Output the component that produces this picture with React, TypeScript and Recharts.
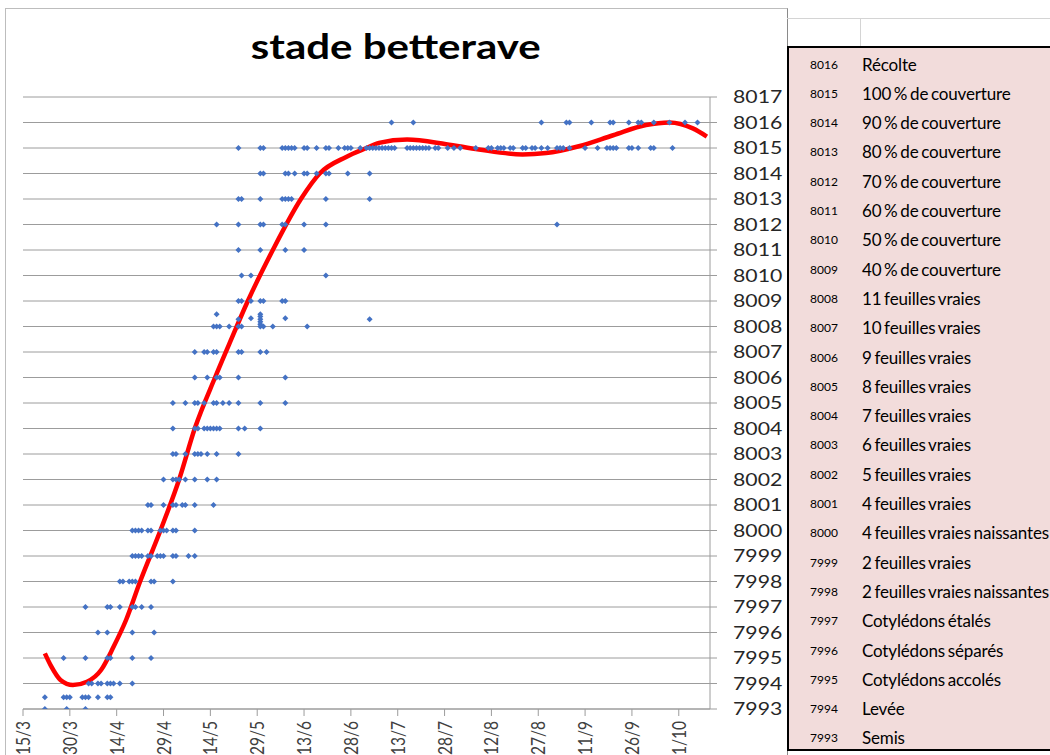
import React from "react";
import {
  ComposedChart,
  Scatter,
  Line,
  XAxis,
  YAxis,
  CartesianGrid,
} from "recharts";

// ---- stage table (code + description) ----
const stageCodes = [
  8016, 8015, 8014, 8013, 8012, 8011, 8010, 8009, 8008, 8007, 8006, 8005,
  8004, 8003, 8002, 8001, 8000, 7999, 7998, 7997, 7996, 7995, 7994, 7993,
];
const stageNames = [
  "Récolte",
  "100 % de couverture",
  "90 % de couverture",
  "80 % de couverture",
  "70 % de couverture",
  "60 % de couverture",
  "50 % de couverture",
  "40 % de couverture",
  "11 feuilles vraies",
  "10 feuilles vraies",
  "9 feuilles vraies",
  "8 feuilles vraies",
  "7 feuilles vraies",
  "6 feuilles vraies",
  "5 feuilles vraies",
  "4 feuilles vraies",
  "4 feuilles vraies naissantes",
  "2 feuilles vraies",
  "2 feuilles vraies naissantes",
  "Cotylédons étalés",
  "Cotylédons séparés",
  "Cotylédons accolés",
  "Levée",
  "Semis",
];

// ---- axes ----
const xTickDays = [0, 15, 30, 45, 60, 75, 90, 105, 120, 135, 150, 165, 180, 195, 210];
const xTickLabels = [
  "15/3", "30/3", "14/4", "29/4", "14/5", "29/5", "13/6", "28/6",
  "13/7", "28/7", "12/8", "27/8", "11/9", "26/9", "11/10",
];
const yTicks = [
  7993, 7994, 7995, 7996, 7997, 7998, 7999, 8000, 8001, 8002, 8003, 8004,
  8005, 8006, 8007, 8008, 8009, 8010, 8011, 8012, 8013, 8014, 8015, 8016, 8017,
];

// ---- observations: days after 15 March, per stage code ----
const obs7993 = [7, 14, 20];
const obs7994 = [21, 22, 24, 25, 27, 28, 29, 31, 35];
const obs7995 = [13, 20, 27, 28, 35, 41];
const obs7996 = [24, 27, 35, 42];
const obs7997 = [20, 27, 28, 31, 35, 36, 38, 41];
const obs7998 = [31, 32, 34, 35, 36, 41, 42, 48];
const obs7999 = [35, 36, 37, 38, 40, 41, 43, 44, 45, 48, 49, 53, 55];
const obs8000 = [35, 36, 37, 38, 40, 41, 44, 45, 46, 48, 49, 55];
const obs8001 = [40, 41, 45, 48, 49, 51, 52, 55, 61];
const obs8002 = [45, 48, 49, 50, 52, 55, 59, 62];
const obs8003 = [48, 49, 52, 55, 56, 57, 59, 62, 69];
const obs8004 = [48, 55, 56, 58, 59, 60, 61, 62, 63, 69, 71, 76];
const obs8005 = [48, 52, 55, 56, 58, 61, 62, 64, 66, 69, 76, 84];
const obs8006 = [55, 59, 62, 63, 69, 84];
const obs8007 = [55, 58, 59, 61, 62, 69, 70, 76, 78];
const obs8008 = [61, 62, 63, 66, 69, 70, 76, 77, 80, 91];
const obs8009 = [69, 70, 73, 76, 77, 83, 84];
const obs8010 = [70, 73, 97];
const obs8011 = [69, 76, 84, 90];
const obs8012 = [62, 69, 76, 77, 83, 84, 90, 97, 171];
const obs8013 = [69, 70, 76, 83, 84, 85, 86, 97, 111];
const obs8014 = [76, 77, 84, 85, 87, 90, 91, 94, 97, 98, 104, 111];
const obs8015 = [
  69, 76, 77, 83, 84, 85, 86, 87, 90, 91, 94, 97, 98, 101, 103, 104, 105, 108,
  110, 111, 112, 113, 114, 115, 116, 117, 118, 119, 123, 124, 125, 126, 127,
  128, 129, 130, 132, 133, 136, 138, 140, 145, 149, 150, 152, 153, 154, 156,
  157, 160, 161, 163, 164, 166, 168, 171, 172, 173, 175, 180, 184, 187, 188,
  189, 190, 194, 195, 197, 201, 202, 208,
];
const obs8016 = [118, 125, 166, 174, 175, 182, 188, 189, 194, 197, 198, 202, 207, 212, 216];

// observations plotted between two stage lines
const offGridDays = [7, 13, 14, 15, 19, 20, 21, 24, 27, 28, 62, 69, 73, 76, 76, 76, 76, 76, 84, 111];
const offGridValues = [
  7993.46, 7993.46, 7993.46, 7993.46, 7993.46, 7993.46, 7993.46, 7993.46,
  7993.46, 7993.46, 8008.48, 8008.28, 8008.32, 8008.48, 8008.39, 8008.28,
  8008.19, 8008.09, 8008.32, 8008.28,
];

// ---- polynomial trend line ----
const trendDays = [
  7, 9, 12, 16, 20.5, 25, 29, 33, 37.5, 44, 50, 55, 61.5, 66, 72, 80, 89, 95,
  103.5, 110, 114, 123, 135.5, 146, 160, 167.5, 178, 189, 199.5, 207, 214.5, 219,
];
const trendValues = [
  7995.18, 7994.68, 7994.14, 7993.94, 7994.07, 7994.53, 7995.44, 7996.49,
  7998, 8000, 8002, 8004, 8006, 8007.3, 8009, 8011, 8013, 8014, 8014.65,
  8015.0, 8015.2, 8015.33, 8015.15, 8014.94, 8014.75, 8014.8, 8015.07,
  8015.5, 8015.9, 8016.0, 8015.77, 8015.45,
];

const obsRows: [number, number[]][] = [
  [7993, obs7993], [7994, obs7994], [7995, obs7995], [7996, obs7996],
  [7997, obs7997], [7998, obs7998], [7999, obs7999], [8000, obs8000],
  [8001, obs8001], [8002, obs8002], [8003, obs8003], [8004, obs8004],
  [8005, obs8005], [8006, obs8006], [8007, obs8007], [8008, obs8008],
  [8009, obs8009], [8010, obs8010], [8011, obs8011], [8012, obs8012],
  [8013, obs8013], [8014, obs8014], [8015, obs8015], [8016, obs8016],
];

const obsPoints = [
  ...obsRows.flatMap(([code, days]) => days.map((d) => ({ x: d, y: code }))),
  ...offGridDays.map((d, i) => ({ x: d, y: offGridValues[i] })),
];
const trendPoints = trendDays.map((d, i) => ({ x: d, y: trendValues[i] }));

const FONT = "Lato, 'Open Sans', sans-serif";
const GRID = "#9c9c9c";

const Diamond = (props: any) => {
  const { cx, cy } = props;
  if (cx == null || cy == null) return null;
  const r = 3;
  return (
    <path
      d={`M${cx} ${cy - r}L${cx + r} ${cy}L${cx} ${cy + r}L${cx - r} ${cy}Z`}
      fill="#4472C4"
    />
  );
};

const XTick = (props: any) => {
  const { x, y, payload } = props;
  const i = xTickDays.indexOf(payload.value);
  return (
    <text
      x={0}
      y={0}
      transform={`translate(${x} ${y}) scale(1.25 1) rotate(-90)`}
      textAnchor="end"
      dy="0.36em"
      fontSize={15.5}
      fontFamily={FONT}
      fill="#404040"
    >
      {xTickLabels[i]}
    </text>
  );
};

const YTick = (props: any) => {
  const { x, y, payload } = props;
  return (
    <text
      x={0}
      y={0}
      transform={`translate(${x} ${y}) scale(1.25 1)`}
      textAnchor="start"
      dy="0.36em"
      fontSize={17}
      fontFamily={FONT}
      fill="#262626"
    >
      {payload.value}
    </text>
  );
};

export default function App() {
  const rowStep = 29.3;
  const tableTop = 46;
  return (
    <div style={{ position: "absolute", left: 0, top: 0, width: 1050, height: 755, overflow: "hidden", background: "#fff" }}>
      <style>{`body{margin:0;overflow:hidden}`}</style>
      {/* chart frame */}
      <div
        style={{
          position: "absolute",
          left: 5,
          top: 8,
          width: 781,
          height: 747,
          borderLeft: "1px solid #bdbdbd",
          borderTop: "1px solid #bdbdbd",
          borderRight: "1px solid #8a8a8a",
        }}
      />
      <div style={{ position: "absolute", left: 0, top: 0 }}>
        <ComposedChart
          width={790}
          height={755}
          margin={{ top: 97, right: 0, bottom: 0, left: 23 }}
        >
          <CartesianGrid vertical={false} stroke={GRID} strokeWidth={1} />
          <XAxis
            type="number"
            dataKey="x"
            domain={[0, 220]}
            ticks={xTickDays}
            interval={0}
            height={46}
            stroke={GRID}
            tickSize={7}
            tickMargin={5}
            tick={<XTick />}
            allowDataOverflow
          />
          <YAxis
            type="number"
            dataKey="y"
            orientation="right"
            domain={[7993, 8017]}
            ticks={yTicks}
            interval={0}
            width={80}
            stroke={GRID}
            tickSize={7}
            tickMargin={16}
            tick={<YTick />}
            allowDataOverflow
          />
          <Scatter
            data={obsPoints}
            dataKey="y"
            shape={<Diamond />}
            isAnimationActive={false}
          />
          <Line
            data={trendPoints}
            dataKey="y"
            type="monotone"
            stroke="#FF0000"
            strokeWidth={4.5}
            dot={false}
            activeDot={false}
            isAnimationActive={false}
          />
        </ComposedChart>
      </div>
      {/* title */}
      <div
        style={{
          position: "absolute",
          left: 5,
          top: 27,
          width: 782,
          textAlign: "center",
          fontFamily: FONT,
          fontWeight: 700,
          fontSize: 35,
          lineHeight: "36px",
          color: "#000",
        }}
      >
        <span style={{ display: "inline-block", transform: "scaleX(1.2)" }}>stade betterave</span>
      </div>
      {/* spreadsheet cell lines above the table */}
      <div style={{ position: "absolute", left: 787, top: 18, width: 263, height: 1, background: "#d4d4d4" }} />
      <div style={{ position: "absolute", left: 860, top: 18, width: 1, height: 29, background: "#d4d4d4" }} />
      {/* stage table */}
      <div
        style={{
          position: "absolute",
          left: 787,
          top: tableTop,
          width: 263,
          height: 701,
          background: "#F2DCDB",
          borderLeft: "2px solid #000",
          borderTop: "2px solid #000",
          borderBottom: "2px solid #000",
          overflow: "hidden",
          fontFamily: FONT,
          color: "#000",
        }}
      >
        {stageCodes.map((code, i) => (
          <div
            key={code}
            style={{
              position: "absolute",
              left: 0,
              top: 64 + i * rowStep - tableTop - 2 - 12,
              height: 24,
              width: 400,
              display: "flex",
              alignItems: "center",
              whiteSpace: "nowrap",
            }}
          >
            <span style={{ position: "absolute", left: 21, fontSize: 12 }}>{code}</span>
            <span
              style={{
                position: "absolute",
                left: 73,
                fontSize: 17,
                letterSpacing: "-0.15px",
                wordSpacing: "-1.5px",
              }}
            >
              {stageNames[i]}
            </span>
          </div>
        ))}
      </div>
    </div>
  );
}
